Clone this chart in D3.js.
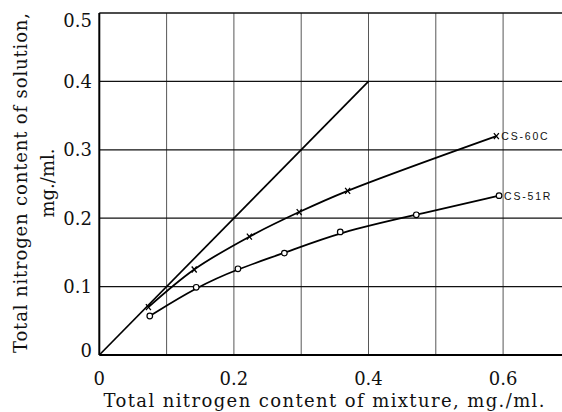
<!DOCTYPE html>
<html>
<head>
<meta charset="utf-8">
<script src="https://cdn.jsdelivr.net/npm/d3@7"></script>
<style>
  body { margin: 0; background: #fff; }
  svg { display: block; }
  .tick-label { font-family: "DejaVu Serif", serif; font-size: 18px; fill: #111; }
  .title { font-family: "DejaVu Serif", serif; font-size: 18px; fill: #111; }
  .curve-label { font-family: "Liberation Sans", Arial, sans-serif; font-size: 10.5px; letter-spacing: 1.8px; fill: #111; }
</style>
</head>
<body>
<script>
// readings off the plotted points (mg./ml.)
var xTicks = [0, 0.2, 0.4, 0.6];
var yTicks = [0, 0.1, 0.2, 0.3, 0.4, 0.5];
var yTickLabels = ['0', '0.1', '0.2', '0.3', '0.4', '0.5'];
var xGrid = [0.1, 0.2, 0.3, 0.4, 0.5, 0.6];

var mix60C = [0.073, 0.141, 0.223, 0.297, 0.369, 0.590];
var sol60C = [0.070, 0.125, 0.173, 0.209, 0.240, 0.320];
var mix51R = [0.075, 0.144, 0.206, 0.275, 0.358, 0.471, 0.594];
var sol51R = [0.057, 0.099, 0.126, 0.149, 0.180, 0.205, 0.233];

var equality = [0, 0.4];
var seriesNames = ['CS-60C', 'CS-51R'];

var W = 562, H = 412;

var svg = d3.select('body').append('svg')
    .attr('width', W)
    .attr('height', H);

var x = d3.scaleLinear().domain([0, 0.7]).range([99.3, 99.3 + 673 * 0.7]),
    y = d3.scaleLinear().domain([0, 0.5]).range([355, 13]);

// grid
svg.selectAll('line.vgrid')
    .data(xGrid)
  .enter().append('line')
    .attr('class', 'vgrid')
    .attr('x1', function (d) { return x(d); })
    .attr('x2', function (d) { return x(d); })
    .attr('y1', y(0.5))
    .attr('y2', y(0))
    .attr('stroke', '#444')
    .attr('stroke-width', 0.9);

svg.selectAll('line.hgrid')
    .data(yTicks.slice(1))
  .enter().append('line')
    .attr('class', 'hgrid')
    .attr('x1', x(0))
    .attr('x2', W)
    .attr('y1', function (d) { return y(d); })
    .attr('y2', function (d) { return y(d); })
    .attr('stroke', '#111')
    .attr('stroke-width', function (d) { return d === 0.5 ? 1.6 : 1.2; });

// axes frame
svg.append('line')
    .attr('x1', x(0)).attr('x2', W)
    .attr('y1', y(0)).attr('y2', y(0))
    .attr('stroke', '#000').attr('stroke-width', 2);
svg.append('line')
    .attr('x1', x(0)).attr('x2', x(0))
    .attr('y1', y(0.5)).attr('y2', y(0))
    .attr('stroke', '#000').attr('stroke-width', 2);

// tick labels
svg.selectAll('text.ytick')
    .data(yTicks)
  .enter().append('text')
    .attr('class', 'tick-label ytick')
    .attr('x', 92)
    .attr('y', function (d) { return y(d); })
    .attr('dy', function (d) { return d === 0.5 ? 14 : (d === 0 ? 2 : 6.5); })
    .attr('text-anchor', 'end')
    .text(function (d, i) { return yTickLabels[i]; });

svg.selectAll('text.xtick')
    .data(xTicks)
  .enter().append('text')
    .attr('class', 'tick-label xtick')
    .attr('x', function (d) { return x(d); })
    .attr('y', 384.5)
    .attr('text-anchor', 'middle')
    .text(function (d) { return d === 0 ? '0' : d.toFixed(1); });

// axis titles
svg.append('text')
    .attr('class', 'title')
    .attr('x', 103.5)
    .attr('y', 407)
    .attr('textLength', 441)
    .attr('lengthAdjust', 'spacing')
    .text('Total nitrogen content of mixture, mg./ml.');

svg.append('text')
    .attr('class', 'title')
    .attr('transform', 'translate(27,353)rotate(-90)')
    .attr('textLength', 340)
    .attr('lengthAdjust', 'spacing')
    .text('Total nitrogen content of solution,');

svg.append('text')
    .attr('class', 'title')
    .attr('transform', 'translate(54,183)rotate(-90)')
    .attr('text-anchor', 'middle')
    .text('mg./ml.');

// equality line
var line = d3.line()
    .x(function (d) { return x(d[0]); })
    .y(function (d) { return y(d[1]); });

svg.append('path')
    .attr('d', line(equality.map(function (v) { return [v, v]; })))
    .attr('fill', 'none')
    .attr('stroke', '#000')
    .attr('stroke-width', 1.7);

var pts60 = d3.zip(mix60C, sol60C),
    pts51 = d3.zip(mix51R, sol51R);

svg.append('path')
    .attr('d', line.curve(d3.curveCatmullRom)(pts60))
    .attr('fill', 'none')
    .attr('stroke', '#000')
    .attr('stroke-width', 1.8);

svg.append('path')
    .attr('d', line.curve(d3.curveBasis)(pts51))
    .attr('fill', 'none')
    .attr('stroke', '#000')
    .attr('stroke-width', 1.8);

// x markers
svg.selectAll('path.xmark')
    .data(pts60)
  .enter().append('path')
    .attr('class', 'xmark')
    .attr('transform', function (d) { return 'translate(' + x(d[0]) + ',' + y(d[1]) + ')'; })
    .attr('d', 'M-2.5,-3L2.5,3M2.5,-3L-2.5,3')
    .attr('stroke', '#000')
    .attr('stroke-width', 1.3);

// open circles
svg.selectAll('circle.omark')
    .data(pts51)
  .enter().append('circle')
    .attr('class', 'omark')
    .attr('cx', function (d) { return x(d[0]); })
    .attr('cy', function (d) { return y(d[1]); })
    .attr('r', 2.8)
    .attr('fill', '#fff')
    .attr('stroke', '#000')
    .attr('stroke-width', 1.2);

// curve labels at the last point
[pts60, pts51].forEach(function (pts, i) {
    var last = pts[pts.length - 1];
    svg.append('text')
        .attr('class', 'curve-label')
        .attr('x', x(last[0]) + 5)
        .attr('y', y(last[1]) + 4)
        .text(seriesNames[i]);
});
</script>
</body>
</html>
